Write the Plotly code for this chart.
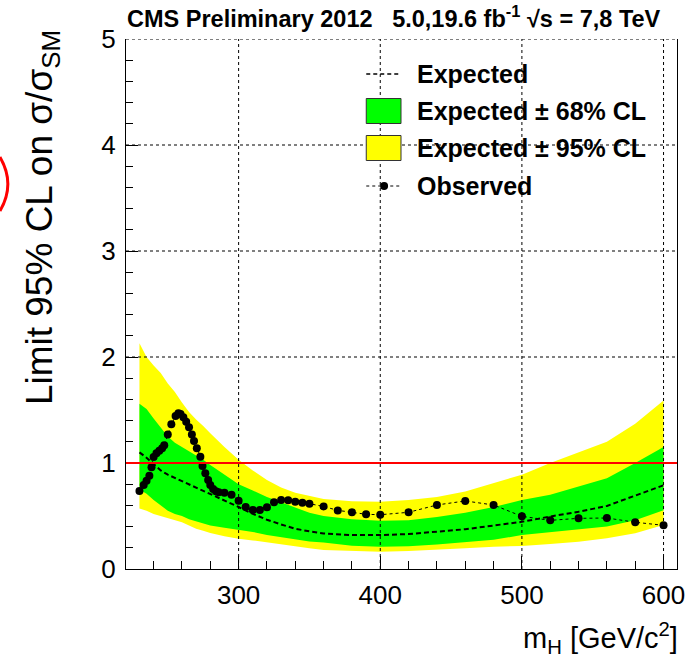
import plotly.graph_objects as go

# ---------------- data ----------------
band_mass = [230, 235, 240, 245, 250, 255, 260, 265, 270, 275, 280, 290, 300, 310, 320, 330,
             340, 350, 360, 380, 400, 420, 440, 460, 480, 500, 520, 540, 560, 580, 600]
expected = [1.10, 1.05, 0.99, 0.93, 0.89, 0.86, 0.83, 0.80, 0.77, 0.74, 0.71, 0.65, 0.585, 0.52, 0.465, 0.42,
            0.38, 0.355, 0.335, 0.32, 0.32, 0.33, 0.35, 0.375, 0.41, 0.445, 0.495, 0.54, 0.595, 0.69, 0.79]
green_up = [1.56, 1.51, 1.42, 1.33, 1.25, 1.19, 1.15, 1.11, 1.07, 1.03, 0.98, 0.89, 0.80, 0.74, 0.68, 0.63,
            0.58, 0.53, 0.50, 0.47, 0.455, 0.46, 0.49, 0.53, 0.585, 0.65, 0.70, 0.775, 0.855, 1.00, 1.15]
green_lo = [0.75, 0.71, 0.65, 0.60, 0.55, 0.52, 0.50, 0.47, 0.45, 0.43, 0.41, 0.39, 0.37, 0.35, 0.32, 0.30,
            0.28, 0.26, 0.25, 0.22, 0.21, 0.215, 0.23, 0.25, 0.275, 0.32, 0.345, 0.37, 0.40, 0.46, 0.555]
yellow_up = [2.13, 2.00, 1.92, 1.85, 1.75, 1.67, 1.57, 1.48, 1.41, 1.35, 1.28, 1.15, 1.03, 0.93, 0.84, 0.77,
             0.72, 0.69, 0.66, 0.64, 0.635, 0.65, 0.68, 0.73, 0.81, 0.89, 1.00, 1.10, 1.20, 1.37, 1.59]
yellow_lo = [0.57, 0.55, 0.52, 0.50, 0.48, 0.46, 0.44, 0.41, 0.38, 0.36, 0.34, 0.31, 0.285, 0.27, 0.25, 0.23,
             0.21, 0.195, 0.18, 0.17, 0.163, 0.17, 0.18, 0.195, 0.21, 0.218, 0.236, 0.258, 0.29, 0.337, 0.415]

obs_mass = [230, 233, 235, 237, 238.5, 240, 242, 244, 246, 247.5, 250, 252.5, 255.5, 257.5, 259, 261, 263, 265,
            267, 268.5, 270.5, 273, 274.5, 276.5, 278.5, 280, 282, 284, 286, 290, 295, 300, 305, 310, 315,
            320, 325, 330, 335, 340, 345, 350, 360, 370, 380, 390, 400, 420, 440, 460, 480, 500, 520, 540,
            560, 580, 600]
observed = [0.736, 0.792, 0.833, 0.880, 0.959, 1.057, 1.091, 1.116, 1.138, 1.167, 1.270, 1.365, 1.443, 1.469,
            1.462, 1.431, 1.390, 1.337, 1.270, 1.208, 1.138, 1.060, 0.972, 0.903, 0.840, 0.792, 0.755, 0.733,
            0.723, 0.720, 0.701, 0.645, 0.585, 0.557, 0.557, 0.582, 0.629, 0.651, 0.648, 0.635, 0.626, 0.616,
            0.590, 0.553, 0.535, 0.516, 0.512, 0.535, 0.604, 0.642, 0.604, 0.497, 0.459, 0.478, 0.481, 0.441,
            0.412]

x_major_ticks = [300, 400, 500, 600]
x_tick_labels = ["300", "400", "500", "600"]
y_major_ticks = [0, 1, 2, 3, 4, 5]
y_tick_labels = ["0", "1", "2", "3", "4", "5"]
sm_line = 1.0

legend_labels = ["Expected", "Expected \u00b1 68% CL", "Expected \u00b1 95% CL", "Observed"]
title_text = "CMS Preliminary 2012   5.0,19.6 fb<sup>-1</sup> \u221as = 7,8 TeV"

FONT = "Liberation Sans, Arial, Helvetica, sans-serif"
GREEN = "#00ff00"
YELLOW = "#ffff00"

W, H = 697, 666
ML, MR, MT, MB = 126, 16, 39, 97
PW, PH = W - ML - MR, H - MT - MB


def px2paper(px, py):
    return (px - ML) / PW, (H - MB - py) / PH


fig = go.Figure()

# 95% band
fig.add_trace(go.Scatter(x=band_mass, y=yellow_lo, mode="lines", line=dict(width=0, color=YELLOW),
                         showlegend=False, hoverinfo="skip"))
fig.add_trace(go.Scatter(x=band_mass, y=yellow_up, mode="lines", line=dict(width=0, color=YELLOW),
                         fill="tonexty", fillcolor=YELLOW, showlegend=False, name=legend_labels[2]))
# 68% band
fig.add_trace(go.Scatter(x=band_mass, y=green_lo, mode="lines", line=dict(width=0, color=GREEN),
                         showlegend=False, hoverinfo="skip"))
fig.add_trace(go.Scatter(x=band_mass, y=green_up, mode="lines", line=dict(width=0, color=GREEN),
                         fill="tonexty", fillcolor=GREEN, showlegend=False, name=legend_labels[1]))
# expected
fig.add_trace(go.Scatter(x=band_mass, y=expected, mode="lines",
                         line=dict(color="black", width=2, dash="5px,3px"),
                         showlegend=False, name=legend_labels[0]))
# observed
fig.add_trace(go.Scatter(x=obs_mass, y=observed, mode="lines+markers",
                         line=dict(color="black", width=1, dash="dot"),
                         marker=dict(symbol="circle", size=8, color="black"),
                         showlegend=False, name=legend_labels[3]))

shapes = []
# grid lines drawn above the bands (ROOT style)
for xv in x_major_ticks:
    shapes.append(dict(type="line", xref="x", yref="paper", x0=xv, x1=xv, y0=0, y1=1,
                       line=dict(color="black", width=1, dash="dot"), layer="above"))
for yv in y_major_ticks[1:]:
    shapes.append(dict(type="line", xref="paper", yref="y", x0=0, x1=1, y0=yv, y1=yv,
                       line=dict(color="black", width=1, dash="dot"), layer="above"))
# SM reference line
shapes.append(dict(type="line", xref="paper", yref="y", x0=0, x1=1, y0=sm_line, y1=sm_line,
                   line=dict(color="#ff0000", width=2), layer="above"))

# manual legend
annotations = []
sx0, _ = px2paper(368, 0)
sx1, _ = px2paper(403, 0)
smid, _ = px2paper(386, 0)
tx, _ = px2paper(417, 0)
rows_py = [74, 111, 148, 186]
# Expected
_, y0 = px2paper(0, rows_py[0])
shapes.append(dict(type="line", xref="paper", yref="paper", x0=sx0, x1=sx1, y0=y0, y1=y0,
                   line=dict(color="black", width=1.5, dash="4px,3px")))
# boxes
for row, col in ((1, GREEN), (2, YELLOW)):
    _, yt = px2paper(0, rows_py[row] - 12.5)
    _, yb = px2paper(0, rows_py[row] + 12.5)
    shapes.append(dict(type="rect", xref="paper", yref="paper", x0=sx0, x1=sx1, y0=yb, y1=yt,
                       fillcolor=col, line=dict(color="#333333", width=1)))
# Observed
_, y3 = px2paper(0, rows_py[3])
shapes.append(dict(type="line", xref="paper", yref="paper", x0=sx0, x1=sx1, y0=y3, y1=y3,
                   line=dict(color="black", width=1, dash="dot")))
rx, ry = 4 / PW, 4 / PH
shapes.append(dict(type="circle", xref="paper", yref="paper", x0=smid - rx, x1=smid + rx,
                   y0=y3 - ry, y1=y3 + ry, fillcolor="black", line=dict(color="black", width=0)))
for label, py in zip(legend_labels, rows_py):
    _, yy = px2paper(0, py)
    annotations.append(dict(text="<b>%s</b>" % label, xref="paper", yref="paper", x=tx, y=yy,
                            xanchor="left", yanchor="middle", showarrow=False,
                            font=dict(family=FONT, size=25, color="black")))

# title
tx0, ty0 = px2paper(125, 34)
annotations.append(dict(text="<b>%s</b>" % title_text, xref="paper", yref="paper", x=tx0, y=ty0,
                        xanchor="left", yanchor="bottom", showarrow=False,
                        font=dict(family=FONT, size=23.5, color="black")))
# y axis title
yx, yy = px2paper(42, 28)
annotations.append(dict(text="Limit 95% CL on \u03c3/\u03c3<sub>SM</sub>", xref="paper", yref="paper",
                        x=yx, y=yy, xanchor="center", yanchor="top", textangle=-90, showarrow=False,
                        font=dict(family=FONT, size=37, color="black")))
# x axis title
xx, xy = px2paper(684, 660)
annotations.append(dict(text="m<sub>H</sub> [GeV/c<sup>2</sup>]", xref="paper", yref="paper",
                        x=xx, y=xy, xanchor="right", yanchor="bottom", showarrow=False,
                        font=dict(family=FONT, size=29, color="black")))

# red annotation arc at left edge (cut off)
ax0, ay0 = px2paper(-1, 157)
axc, ayc = px2paper(15, 184)
ax1, ay1 = px2paper(-1, 211)
shapes.append(dict(type="path", xref="paper", yref="paper",
                   path="M %f,%f Q %f,%f %f,%f" % (ax0, ay0, axc, ayc, ax1, ay1),
                   line=dict(color="#ff0000", width=3)))

fig.update_layout(
    width=W, height=H,
    margin=dict(l=ML, r=MR, t=MT, b=MB, pad=0),
    paper_bgcolor="white", plot_bgcolor="white",
    showlegend=False,
    shapes=shapes, annotations=annotations,
    font=dict(family=FONT, color="black"),
)
fig.update_xaxes(
    range=[220.5, 609.5], tickvals=x_major_ticks, ticktext=x_tick_labels,
    ticks="inside", ticklen=13, tickcolor="black", tickwidth=1,
    minor=dict(dtick=20, tick0=0, ticks="inside", ticklen=8, tickcolor="black", showgrid=False),
    showgrid=False, zeroline=False, showline=True, linecolor="black", linewidth=1, mirror=False,
    tickfont=dict(family=FONT, size=26, color="black"), ticklabelstandoff=3,
)
fig.update_yaxes(
    range=[0, 5], tickvals=y_major_ticks, ticktext=y_tick_labels,
    ticks="inside", ticklen=12, tickcolor="black", tickwidth=1,
    minor=dict(dtick=0.2, tick0=0, ticks="inside", ticklen=7, tickcolor="black", showgrid=False),
    showgrid=False, zeroline=False, showline=True, linecolor="black", linewidth=1, mirror=True,
    tickfont=dict(family=FONT, size=26, color="black"), ticklabelstandoff=4,
)

fig.write_html("out.html")
